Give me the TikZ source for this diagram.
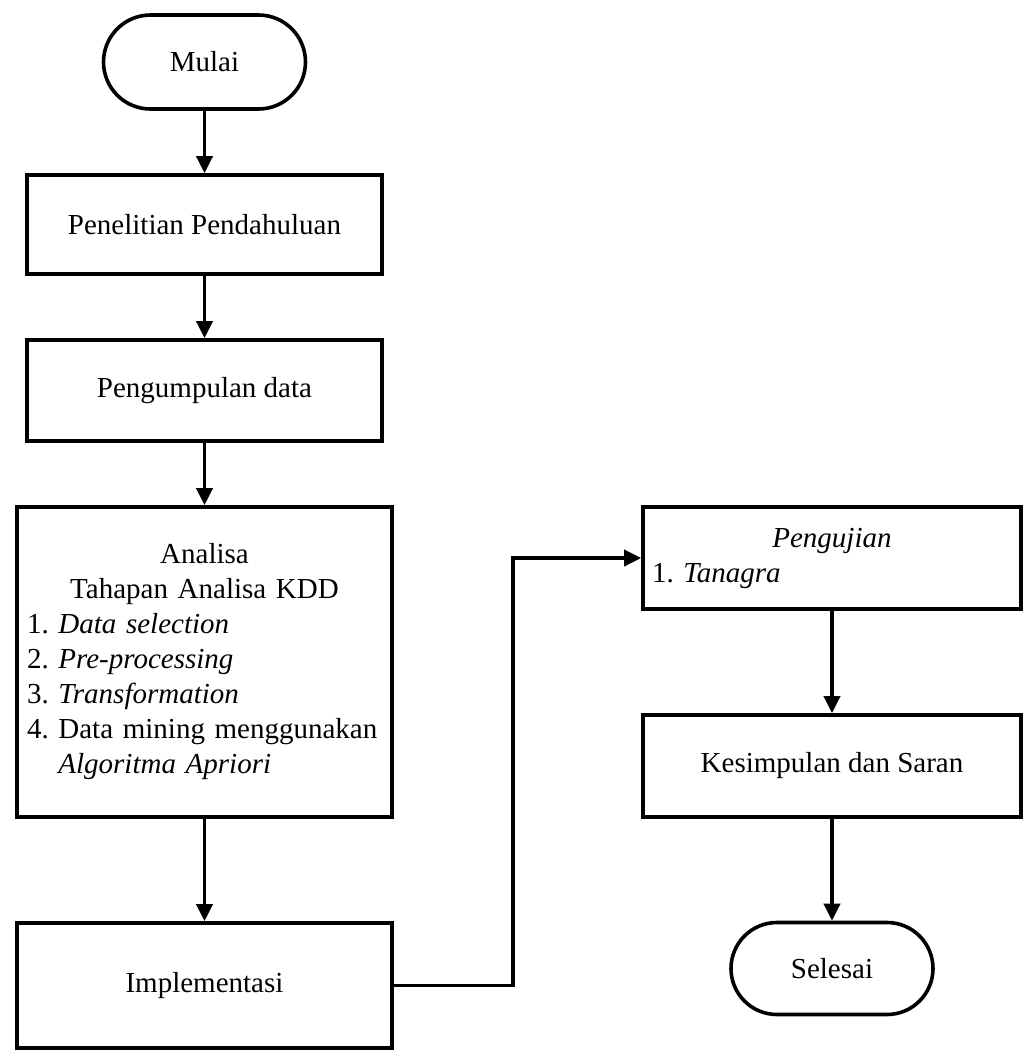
\documentclass[tikz,border=0pt]{standalone}
\usepackage{fontspec}
\setmainfont{Liberation Serif}
\usetikzlibrary{arrows.meta,shapes.misc}
\begin{document}
\frenchspacing
\begin{tikzpicture}[x=0.5pt,y=-0.5pt,
  every node/.style={font=\fontsize{14.5pt}{17.5pt}\selectfont\frenchspacing},
  box/.style={draw, line width=1.8pt, rectangle, inner sep=0pt, align=center},
  term/.style={draw, line width=1.8pt, rounded rectangle, inner sep=0pt, minimum width=101pt, minimum height=47pt},
  arr/.style={line width=1.8pt, -{Triangle[width=8pt,length=8.5pt]}}]
\useasboundingbox[fill=white] (0,0) rectangle (1025,1057);

\node[term] (mulai) at (204.5,62) {Mulai};
\node[box, minimum width=177.5pt, minimum height=49.5pt] (pen) at (204.5,224.5) {Penelitian Pendahuluan};
\node[box, minimum width=177.5pt, minimum height=50.5pt] (kump) at (204.5,390.5) {Pengumpulan data};
\node[box, minimum width=187.5pt, minimum height=155pt, text width=177.5pt, inner xsep=5pt, align=left] (anal) at (204.5,662)
  {{\centering Analisa\\Tahapan Analisa KDD\par}
   1. \textit{Data selection}\\
   2. \textit{Pre-processing}\\
   3. \textit{Transformation}\\
   \mbox{4. Data mining menggunakan}\\
   \hphantom{4.}\ \textit{Algoritma Apriori}};
\node[box, minimum width=187.5pt, minimum height=62.5pt] (impl) at (204.5,985.5) {Implementasi};
\node[box, minimum width=189pt, minimum height=51pt, text width=180pt, inner xsep=4.5pt, align=left] (uji) at (832,558)
  {{\centering\textit{Pengujian}\par}
   1. \textit{Tanagra}};
\node[box, minimum width=189pt, minimum height=51pt] (simp) at (832,766) {Kesimpulan dan Saran};
\node[term, minimum height=46pt] (selesai) at (832,968.5) {Selesai};
\coordinate (bendx) at (513,0);

\draw[arr] (mulai.south) -- (pen.north);
\draw[arr] (pen.south) -- (kump.north);
\draw[arr] (kump.south) -- (anal.north);
\draw[arr] (anal.south) -- (impl.north);
\draw[arr] (impl.east) -- (impl.east -| bendx) |- (uji.west);
\draw[arr] (uji.south) -- (simp.north);
\draw[arr] (simp.south) -- (selesai.north);
\end{tikzpicture}
\end{document}
